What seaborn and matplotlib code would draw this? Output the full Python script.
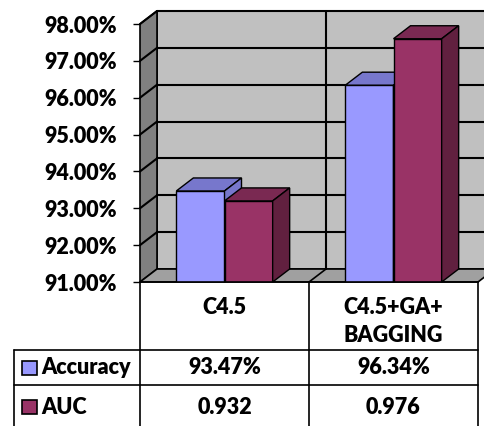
import seaborn as sns
import matplotlib.pyplot as plt
import matplotlib.lines as mlines
from matplotlib.patches import Polygon, Rectangle
import pandas as pd

# data
models = ['C4.5', 'C4.5+GA+\nBAGGING']
accuracy = [93.47, 96.34]
auc = [0.932, 0.976]
acc_labels = ['93.47%', '96.34%']
auc_labels = ['0.932', '0.976']
yticks = [91, 92, 93, 94, 95, 96, 97, 98]

blue, red = '#9999FF', '#993366'
blue_top, red_top, red_side = '#7777CC', '#7A2952', '#61203F'

df = pd.DataFrame({
    'model': models * 2,
    'metric': ['Accuracy'] * 2 + ['AUC'] * 2,
    'value': accuracy + [a * 100 for a in auc],
})

sns.set_theme(style='white')
plt.rcParams['font.family'] = ['Lato', 'DejaVu Sans']
plt.rcParams['text.color'] = 'black'

W, H = 484, 426
fig = plt.figure(figsize=(W / 100, H / 100), dpi=100)
ax = fig.add_axes([140 / W, 1 - 282 / H, 338 / W, 258 / H])
ax.set_xlim(-0.5, 1.5)
ax.set_ylim(91, 98)

# 3d depth in data units
dx = 17 * 2 / 338
dy = 13 * 7 / 258
lo, hi = 91, 98

# walls
ax.add_patch(Polygon([(-0.5 + dx, lo + dy), (1.5 + dx, lo + dy), (1.5 + dx, hi + dy), (-0.5 + dx, hi + dy)],
                     closed=True, fc='#C0C0C0', ec='black', lw=1.2, clip_on=False, zorder=0))
ax.add_patch(Polygon([(-0.5, lo), (-0.5, hi), (-0.5 + dx, hi + dy), (-0.5 + dx, lo + dy)],
                     closed=True, fc='#808080', ec='black', lw=1.2, clip_on=False, zorder=0.5))
ax.add_patch(Polygon([(-0.5, lo), (1.5, lo), (1.5 + dx, lo + dy), (-0.5 + dx, lo + dy)],
                     closed=True, fc='#A0A0A0', ec='black', lw=1.2, clip_on=False, zorder=0.5))
for t in yticks[1:]:
    ax.plot([-0.5 + dx, 1.5 + dx], [t + dy, t + dy], color='black', lw=1.5, clip_on=False, zorder=1)
    ax.plot([-0.5, -0.5 + dx], [t, t + dy], color='black', lw=1.5, clip_on=False, zorder=1)
ax.plot([0.5 + dx, 0.5 + dx], [lo + dy, hi + dy], color='black', lw=1.5, clip_on=False, zorder=1)
ax.plot([0.5, 0.5 + dx], [lo, lo + dy], color='black', lw=1.2, clip_on=False, zorder=1)

sns.barplot(data=df, x='model', y='value', hue='metric', palette=[blue, red], width=0.57,
            saturation=1, edgecolor='black', linewidth=1, legend=False, ax=ax, zorder=3)

for p in ax.patches:
    if not isinstance(p, Rectangle):
        continue
    is_red = p.get_facecolor()[2] < 0.7
    z = 4 if is_red else 3
    p.set_zorder(z)
    x0, x1 = p.get_x(), p.get_x() + p.get_width()
    h = p.get_y() + p.get_height()
    ax.add_patch(Polygon([(x0, h), (x1, h), (x1 + dx, h + dy), (x0 + dx, h + dy)], closed=True,
                         fc=red_top if is_red else blue_top, ec='black', lw=1, clip_on=False, zorder=z))
    ax.add_patch(Polygon([(x1, lo), (x1, h), (x1 + dx, h + dy), (x1 + dx, lo + dy)], closed=True,
                         fc=red_side if is_red else blue_top, ec='black', lw=1, clip_on=False, zorder=z))

fs = 15.5
wt = 'heavy'
ax.set_yticks(yticks)
ax.set_yticklabels([f'{t:.2f}%' for t in yticks], fontsize=fs, fontweight=wt)
ax.set_xticks([])
ax.set_xlabel('')
ax.set_ylabel('')
ax.tick_params(axis='y', left=True, length=5, width=1, color='black', pad=11.5, labelcolor='black')
for s in ax.spines.values():
    s.set_visible(False)


# data table below the chart
def hline(x0, x1, y):
    fig.add_artist(mlines.Line2D([x0 / W, x1 / W], [1 - y / H, 1 - y / H], color='black', lw=1.2))


def vline(x, y0, y1):
    fig.add_artist(mlines.Line2D([x / W, x / W], [1 - y0 / H, 1 - y1 / H], color='black', lw=1.2))


def label(x, y, s, ha='center'):
    fig.text(x / W, 1 - y / H, s, ha=ha, va='center', fontsize=fs, fontweight=wt, color='black')


cols = [140, 309, 478]
hline(140, 478, 282)
hline(14, 478, 350)
hline(14, 478, 385)
for c in cols:
    vline(c, 282, 426)
vline(14, 350, 426)

centers = [(cols[i] + cols[i + 1]) / 2 for i in range(2)]
for cx, m in zip(centers, models):
    for i, line in enumerate(m.split('\n')):
        label(cx, 307 + 28 * i, line)
rows = [('Accuracy', blue, acc_labels, 368), ('AUC', red, auc_labels, 407)]
for name, col, labels, cy in rows:
    fig.add_artist(Rectangle((22 / W, 1 - (cy + 7) / H), 15 / W, 14 / H, fc=col, ec='black', lw=1.2,
                             transform=fig.transFigure))
    label(41, cy, name, ha='left')
    for cx, lab in zip(centers, labels):
        label(cx, cy, lab)

fig.savefig('out.png', dpi=100)
